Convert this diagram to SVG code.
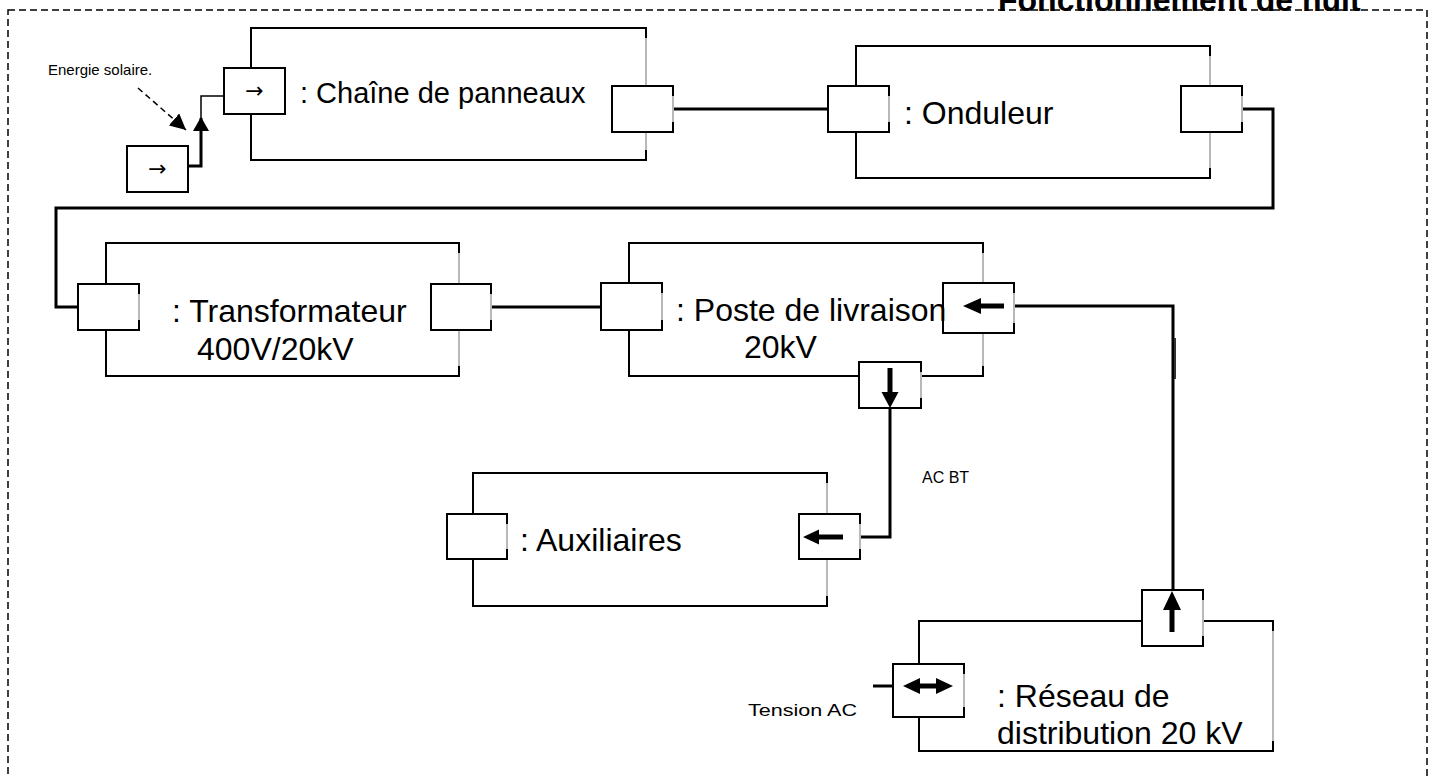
<svg xmlns="http://www.w3.org/2000/svg" width="1434" height="778" viewBox="0 0 1434 778">
<style>
.frame{fill:none;stroke:#000;stroke-width:1.5;stroke-dasharray:7 4}
.box{fill:#fff;stroke:#000;stroke-width:2}
.port{fill:#fff;stroke:#000;stroke-width:2}
.gray{stroke:#b8b8b8;stroke-width:2}
.wire{fill:none;stroke:#000;stroke-width:3}
.thin{fill:none;stroke:#000;stroke-width:1.5}
.lbl{font-family:"Liberation Sans",Arial,sans-serif;font-size:32px;fill:#000}
.sm{font-family:"Liberation Sans",Arial,sans-serif;font-size:15px;fill:#000}
.sym{font-family:"DejaVu Sans",sans-serif;font-size:22px;fill:#000}
.title{font-family:"Liberation Sans",Arial,sans-serif;font-size:32px;font-weight:bold;fill:#000}
.head{fill:#000}
.shaft{stroke:#000;stroke-width:5}
</style>
<defs>
<marker id="ah" viewBox="0 0 10 10" refX="10" refY="5" markerWidth="16" markerHeight="16" markerUnits="userSpaceOnUse" orient="auto"><path d="M0,0 L10,5 L0,10 z" fill="#000"/></marker>
</defs>
<rect class="frame" x="8" y="10" width="1419" height="800"/>
<text class="title" x="998" y="11">Fonctionnement de nuit</text>

<g id="connectors">
<path class="wire" d="M188,166 H201 V118"/>
<polygon class="head" points="193,131 209,131 201,117"/>
<path class="thin" d="M201,118 V96 H224"/>
<line x1="138" y1="88" x2="186" y2="130" stroke="#000" stroke-width="1.5" stroke-dasharray="6 4" marker-end="url(#ah)"/>
<path class="wire" d="M673,109 H828"/>
<path class="wire" d="M1242,109 H1273 V208 H56 V307 H79"/>
<path class="wire" d="M491,307 H601"/>
<path class="wire" d="M1014,306 H1173 V593"/>
<line x1="1175" y1="338" x2="1175" y2="379" stroke="#333" stroke-width="2"/>
<path class="wire" d="M890,408 V537 H860"/>
<line x1="873" y1="686" x2="893" y2="686" stroke="#000" stroke-width="3"/>
</g>

<g id="ext-port">
<rect class="port" x="127" y="146" width="61" height="46"/>
<text class="sym" x="157.5" y="176" text-anchor="middle">→</text>
<text class="sm" x="48" y="75">Energie solaire.</text>
</g>

<g id="chaine">
<rect class="box" x="251" y="28" width="395" height="132"/>
<line class="gray" x1="646" y1="38" x2="646" y2="150"/>
<rect class="port" x="224" y="68" width="61" height="46"/>
<text class="sym" x="254.5" y="98" text-anchor="middle">→</text>
<rect class="port" x="612" y="86" width="61" height="46"/>
<line class="gray" x1="673" y1="96" x2="673" y2="122"/>
<text class="lbl" x="300" y="103" style="font-size:29px">: Chaîne de panneaux</text>
</g>

<g id="onduleur">
<rect class="box" x="856" y="46" width="354" height="132"/>
<line class="gray" x1="1210" y1="56" x2="1210" y2="168"/>
<rect class="port" x="828" y="86" width="61" height="46"/>
<line class="gray" x1="889" y1="96" x2="889" y2="122"/>
<rect class="port" x="1181" y="86" width="61" height="46"/>
<line class="gray" x1="1242" y1="96" x2="1242" y2="122"/>
<text class="lbl" x="904" y="124">: Onduleur</text>
</g>

<g id="transformateur">
<rect class="box" x="106" y="243" width="353" height="133"/>
<line class="gray" x1="459" y1="253" x2="459" y2="366"/>
<rect class="port" x="78" y="284" width="61" height="46"/>
<line class="gray" x1="139" y1="294" x2="139" y2="320"/>
<rect class="port" x="431" y="284" width="60" height="46"/>
<line class="gray" x1="491" y1="294" x2="491" y2="320"/>
<text class="lbl" x="172" y="322">: Transformateur</text>
<text class="lbl" x="197" y="360">400V/20kV</text>
</g>

<g id="poste">
<rect class="box" x="629" y="243" width="354" height="133"/>
<line class="gray" x1="983" y1="253" x2="983" y2="366"/>
<rect class="port" x="601" y="283" width="61" height="47"/>
<line class="gray" x1="662" y1="293" x2="662" y2="320"/>
<rect class="port" x="943" y="283" width="71" height="50"/>
<line class="gray" x1="1014" y1="293" x2="1014" y2="323"/>
<line class="shaft" x1="979" y1="306" x2="1004" y2="306"/>
<polygon class="head" points="963,306 981,298 981,314"/>
<rect class="port" x="859" y="362" width="62" height="46"/>
<line class="gray" x1="921" y1="372" x2="921" y2="398"/>
<line class="shaft" x1="890" y1="368" x2="890" y2="394"/>
<polygon class="head" points="890,408 881.5,392 898.5,392"/>
<text class="lbl" x="676" y="321">: Poste de livraison</text>
<text class="lbl" x="744" y="358">20kV</text>
</g>

<text class="sm" x="922" y="483" style="font-size:16px">AC BT</text>

<g id="auxiliaires">
<rect class="box" x="473" y="473" width="354" height="133"/>
<line class="gray" x1="827" y1="483" x2="827" y2="596"/>
<rect class="port" x="447" y="514" width="60" height="45"/>
<line class="gray" x1="507" y1="524" x2="507" y2="549"/>
<rect class="port" x="799" y="514" width="61" height="45"/>
<line class="gray" x1="860" y1="524" x2="860" y2="549"/>
<line class="shaft" x1="816" y1="537" x2="843" y2="537"/>
<polygon class="head" points="803,537 819,529.5 819,544.5"/>
<text class="lbl" x="520" y="551">: Auxiliaires</text>
</g>

<g id="reseau">
<rect class="box" x="919" y="621" width="354" height="130"/>
<line class="gray" x1="1273" y1="631" x2="1273" y2="741"/>
<rect class="port" x="1142" y="590" width="61" height="56"/>
<line class="gray" x1="1203" y1="600" x2="1203" y2="636"/>
<line class="shaft" x1="1172" y1="606" x2="1172" y2="632"/>
<polygon class="head" points="1172,591 1163,610 1181,610"/>
<rect class="port" x="893" y="664" width="71" height="53"/>
<line class="gray" x1="964" y1="674" x2="964" y2="707"/>
<line class="shaft" x1="916" y1="686" x2="940" y2="686"/>
<polygon class="head" points="903,686 920,678 920,694"/>
<polygon class="head" points="953,686 936,678 936,694"/>
<text class="lbl" x="997" y="707">: Réseau de</text>
<text class="lbl" x="997" y="744">distribution 20 kV</text>
<text class="sm" x="748" y="716" textLength="109" lengthAdjust="spacingAndGlyphs" style="font-size:17px">Tension AC</text>
</g>
</svg>
